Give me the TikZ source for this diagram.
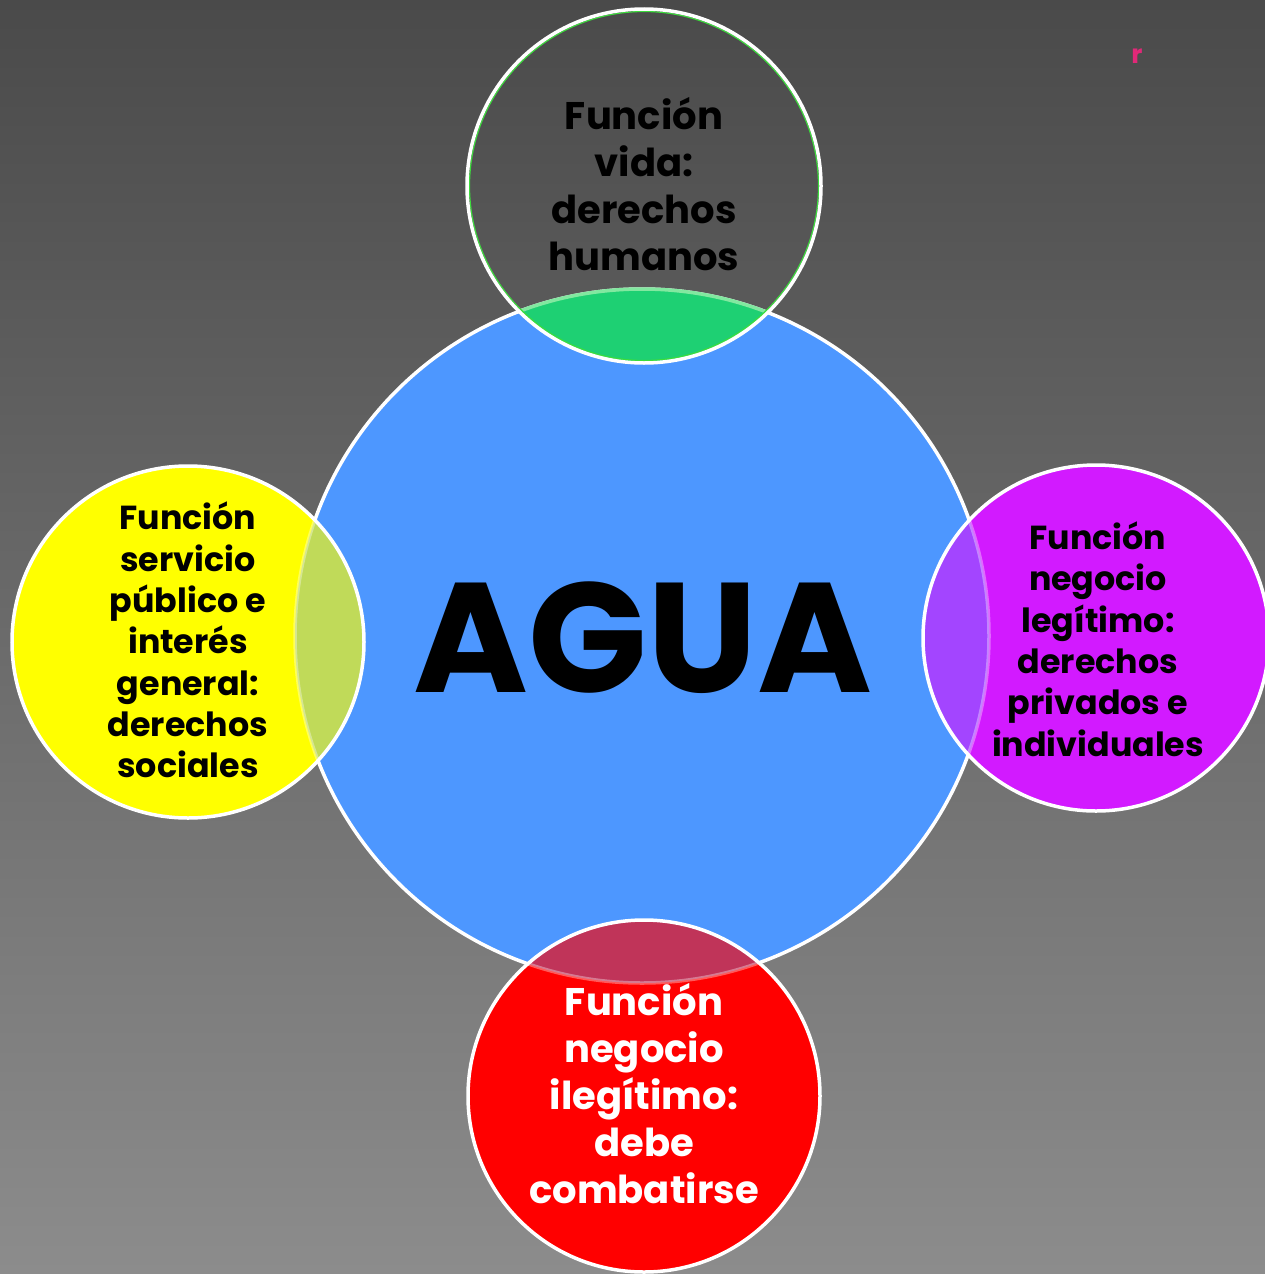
\documentclass[tikz,border=0pt]{standalone}
\usepackage{fontspec}
\setmainfont{Poppins}
\definecolor{bgtop}{RGB}{74,74,74}
\definecolor{bgbot}{RGB}{140,140,140}
\definecolor{aguablue}{RGB}{77,151,255}
\definecolor{lensgreen}{RGB}{30,208,115}
\definecolor{lensgreenline}{RGB}{130,232,160}
\definecolor{fyellow}{RGB}{255,255,0}
\definecolor{fpurple}{RGB}{210,26,255}
\definecolor{fred}{RGB}{255,0,0}
\definecolor{edgegreen}{RGB}{60,220,60}
\definecolor{pinkr}{RGB}{225,40,120}
\tikzset{
  ring/.style={draw=white, line width=3.5pt},
  bigtxt/.style={align=center, font=\bfseries\fontsize{38.5}{47}\selectfont, inner sep=0pt},
  sidetxt/.style={align=center, font=\bfseries\fontsize{33.3}{41.3}\selectfont, inner sep=0pt},
}
\begin{document}
\begin{tikzpicture}[x=1pt,y=-1pt]
\useasboundingbox (0,0) rectangle (1265,1274);
\shade[top color=bgtop, bottom color=bgbot] (0,0) rectangle (1265,1274);
\coordinate (cB) at (642,636);
\coordinate (cT) at (644,186);
\coordinate (cL) at (188,642);
\coordinate (cR) at (1096,638);
\coordinate (cD) at (644,1096);
% big circle
\fill[aguablue] (cB) circle (347);
\draw[ring] (cB) circle (347);
% top lens
\begin{scope}
  \clip (cT) circle (177);
  \fill[lensgreen] (cB) circle (347);
  \draw[lensgreenline, line width=3.5pt] (cB) circle (347);
\end{scope}
\draw[edgegreen, line width=1.2pt] (cT) circle (174.5);
\draw[ring] (cT) circle (177);
% left circle
\fill[fyellow] (cL) circle (176);
\begin{scope}
  \clip (cL) circle (176);
  \fill[aguablue, opacity=0.35] (cB) circle (347);
  \draw[white, opacity=0.35, line width=3.5pt] (cB) circle (347);
\end{scope}
\draw[ring] (cL) circle (176);
% right circle
\fill[fpurple] (cR) circle (173);
\begin{scope}
  \clip (cR) circle (173);
  \fill[aguablue, opacity=0.35] (cB) circle (347);
  \draw[white, opacity=0.35, line width=3.5pt] (cB) circle (347);
\end{scope}
\draw[ring] (cR) circle (173);
% bottom circle
\fill[fred] (cD) circle (176);
\begin{scope}
  \clip (cD) circle (176);
  \fill[aguablue, opacity=0.35] (cB) circle (347);
  \draw[white, opacity=0.35, line width=3.5pt] (cB) circle (347);
\end{scope}
\draw[ring] (cD) circle (176);
% texts
\node[font=\bfseries\fontsize{156}{156}\selectfont, inner sep=0pt] (agua) at (643,638) {AGUA};
\node[bigtxt, text=black] (tvida) at (644,184) {Función\\vida:\\derechos\\humanos};
\node[sidetxt, text=black] (tserv) at (188,640) {Función\\servicio\\público e\\interés\\general:\\derechos\\sociales};
\node[sidetxt, text=black] (tleg) at (1098,639) {Función\\negocio\\legítimo:\\derechos\\privados e\\individuales};
\node[bigtxt, text=white] (tileg) at (644,1094) {Función\\negocio\\ilegítimo:\\debe\\combatirse};
\node[text=pinkr, font=\bfseries\fontsize{26}{26}\selectfont, inner sep=0pt] (rmark) at (1137,56) {r};
\end{tikzpicture}
\end{document}
